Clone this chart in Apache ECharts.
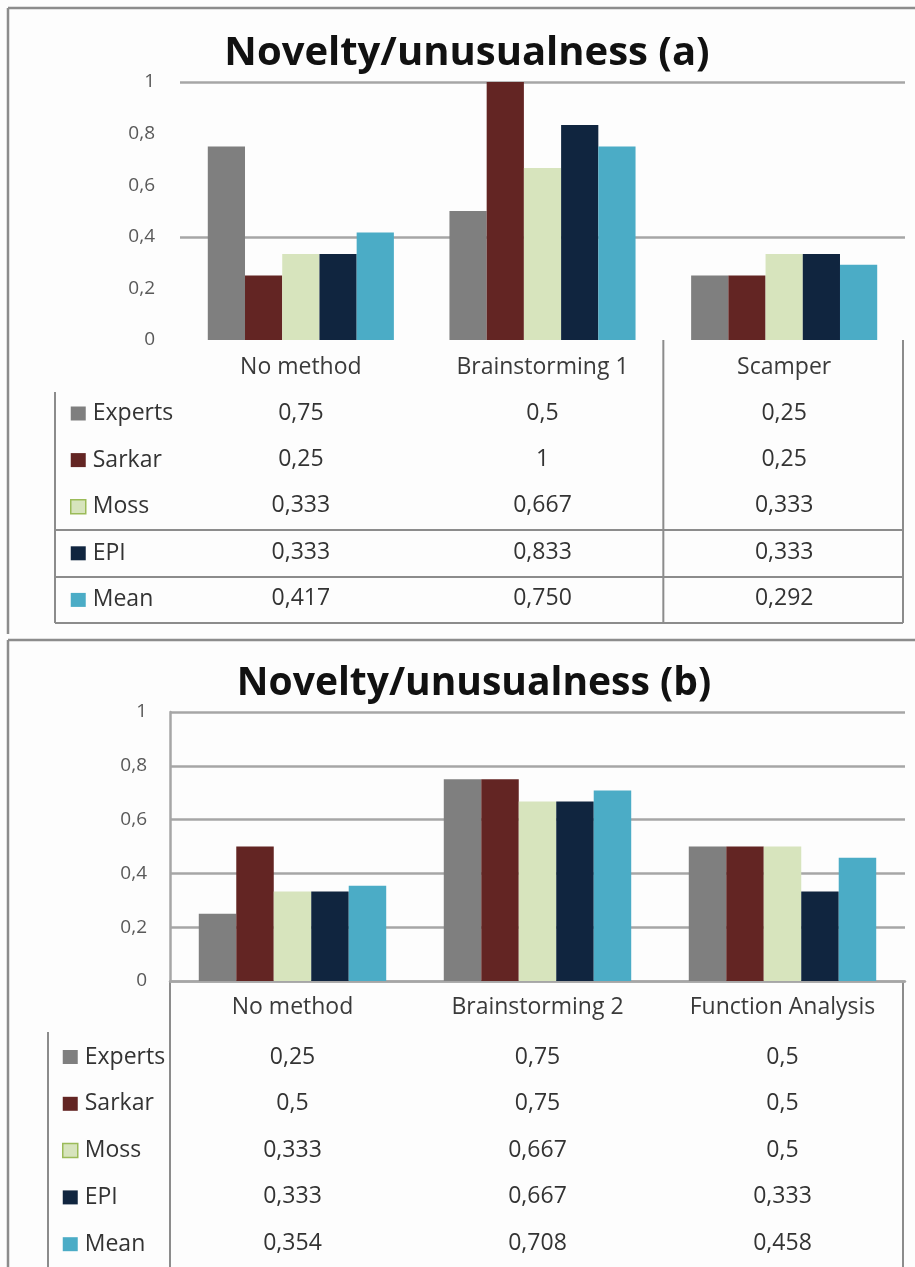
<!DOCTYPE html>
<html>
<head>
<meta charset="utf-8">
<script src="https://cdn.jsdelivr.net/npm/echarts@6/dist/echarts.min.js"></script>
<style>
html, body { margin: 0; padding: 0; background: #fff; }
#main { width: 915px; height: 1267px; }
</style>
</head>
<body>
<div id="main"></div>
<script>
var chart = echarts.init(document.getElementById('main'));

var seriesNames = ['Experts', 'Sarkar', 'Moss', 'EPI', 'Mean'];
var yTickLabels = ['0', '0,2', '0,4', '0,6', '0,8', '1'];

// panel (a)
var categoriesA = ['No method', 'Brainstorming 1', 'Scamper'];
var expertsA = [0.75, 0.5, 0.25];
var sarkarA  = [0.25, 1, 0.25];
var mossA    = [0.333, 0.667, 0.333];
var epiA     = [0.333, 0.833, 0.333];
var meanA    = [0.417, 0.750, 0.292];
var tableA = [
  ['0,75', '0,5', '0,25'],
  ['0,25', '1', '0,25'],
  ['0,333', '0,667', '0,333'],
  ['0,333', '0,833', '0,333'],
  ['0,417', '0,750', '0,292']
];

// panel (b)
var categoriesB = ['No method', 'Brainstorming 2', 'Function Analysis'];
var expertsB = [0.25, 0.75, 0.5];
var sarkarB  = [0.5, 0.75, 0.5];
var mossB    = [0.333, 0.667, 0.5];
var epiB     = [0.333, 0.667, 0.333];
var meanB    = [0.354, 0.708, 0.458];
var tableB = [
  ['0,25', '0,75', '0,5'],
  ['0,5', '0,75', '0,5'],
  ['0,333', '0,667', '0,5'],
  ['0,333', '0,667', '0,333'],
  ['0,354', '0,708', '0,458']
];

var colors = ['#7f7f7f', '#632523', '#d7e4bd', '#10253f', '#4bacc6'];
var FONT = '"Open Sans", Lato, sans-serif';
var gridColor = '#a6a6a6';

// plot boxes
var pa = { left: 180, right: 905, top: 82, bottom: 340 };
var pb = { left: 170, right: 905, top: 712, bottom: 981 };

function yLabel(v) {
  return yTickLabels[Math.round(v / 0.2)];
}

function tableAxes(gridIndex, cats, rows, firstOffset, step, margin) {
  var axes = [{
    type: 'category', gridIndex: gridIndex, data: cats,
    axisTick: { show: false },
    axisLine: { show: gridIndex === 1, lineStyle: { color: gridColor, width: 2.5 } },
    axisLabel: { interval: 0, margin: margin, color: '#3a3a3a', fontSize: 23, lineHeight: 24, fontFamily: FONT }
  }];
  for (var i = 0; i < rows.length; i++) {
    axes.push({
      type: 'category', gridIndex: gridIndex, data: rows[i], position: 'bottom',
      offset: firstOffset + i * step,
      axisTick: { show: false }, axisLine: { show: false },
      axisLabel: { interval: 0, margin: margin, color: '#333', fontSize: 23, lineHeight: 24, fontFamily: FONT }
    });
  }
  return axes;
}

var xAxes = tableAxes(0, categoriesA, tableA, 46.3, 46.3, 15)
  .concat(tableAxes(1, categoriesB, tableB, 50, 46.5, 14));

var valuesA = [expertsA, sarkarA, mossA, epiA, meanA];
var valuesB = [expertsB, sarkarB, mossB, epiB, meanB];
var series = [];
for (var i = 0; i < seriesNames.length; i++) {
  series.push({
    name: seriesNames[i], type: 'bar', xAxisIndex: 0, yAxisIndex: 0,
    data: valuesA[i], barGap: '0%', barCategoryGap: '23%',
    itemStyle: { color: colors[i] }, silent: true
  });
}
for (var i = 0; i < seriesNames.length; i++) {
  series.push({
    name: seriesNames[i], type: 'bar', xAxisIndex: 6, yAxisIndex: 1,
    data: valuesB[i], barGap: '0%', barCategoryGap: '23.5%',
    itemStyle: { color: colors[i] }, silent: true
  });
}

var legendData = seriesNames.map(function (n) {
  if (n === 'Moss') return { name: n, itemStyle: { borderColor: '#9bbb59', borderWidth: 1.5 } };
  return { name: n };
});

function legendAt(left, top, gap) {
  return {
    orient: 'vertical', left: left, top: top, height: 260, itemWidth: 15, itemHeight: 14, itemGap: gap,
    icon: 'rect', selectedMode: false, data: legendData,
    textStyle: { fontSize: 23, lineHeight: 18, color: '#333', fontFamily: FONT, padding: [0, 0, 0, 2] }
  };
}

function line(x1, y1, x2, y2, w) {
  return { type: 'line', shape: { x1: x1, y1: y1, x2: x2, y2: y2 }, style: { stroke: '#8c8c8c', lineWidth: w || 2 } };
}

var colA = (pa.right - pa.left) / 3;

var option = {
  backgroundColor: '#fdfdfd',
  animation: false,
  color: colors,
  title: [
    { text: 'Novelty/unusualness (a)', left: 462, top: 29, textAlign: 'center',
      textStyle: { fontSize: 40, lineHeight: 40, fontWeight: 'bold', color: '#111', fontFamily: FONT } },
    { text: 'Novelty/unusualness (b)', left: 469, top: 659, textAlign: 'center',
      textStyle: { fontSize: 39, lineHeight: 40, fontWeight: 'bold', color: '#111', fontFamily: FONT } }
  ],
  legend: [legendAt(65, 397, 23.6), legendAt(57, 1040.5, 23.8)],
  grid: [
    { left: pa.left, top: pa.top, width: pa.right - pa.left, height: pa.bottom - pa.top, containLabel: false },
    { left: pb.left, top: pb.top, width: pb.right - pb.left, height: pb.bottom - pb.top, containLabel: false }
  ],
  xAxis: xAxes,
  yAxis: [
    { type: 'value', gridIndex: 0, min: 0, max: 1, interval: 0.2,
      axisLine: { show: false }, axisTick: { show: false },
      axisLabel: { margin: 25, color: '#595959', fontSize: 19, fontFamily: FONT, formatter: yLabel },
      splitLine: { show: true, lineStyle: { width: 2.5,
        color: ['rgba(0,0,0,0)', 'rgba(0,0,0,0)', gridColor, 'rgba(0,0,0,0)', 'rgba(0,0,0,0)', gridColor] } } },
    { type: 'value', gridIndex: 1, min: 0, max: 1, interval: 0.2,
      axisLine: { show: true, lineStyle: { color: gridColor, width: 2.5 } }, axisTick: { show: false },
      axisLabel: { margin: 23, color: '#595959', fontSize: 19, fontFamily: FONT, formatter: yLabel },
      splitLine: { show: true, lineStyle: { width: 2.5, color: gridColor } } }
  ],
  graphic: [
    // frames
    line(8, 8, 915, 8, 2.5), line(8, 8, 8, 634, 2.5),
    line(8, 640, 915, 640, 2.5), line(8, 640, 8, 1267, 2.5),
    // table (a)
    line(55, 392, 55, 623), line(pa.left + 2 * colA, pa.bottom, pa.left + 2 * colA, 623),
    line(pa.right - 2, pa.bottom, pa.right - 2, 623),
    line(55, 530, pa.right - 2, 530), line(55, 577, pa.right - 2, 577), line(55, 623, pa.right - 2, 623),
    // table (b)
    line(48, 1032, 48, 1267), line(pb.left, pb.bottom, pb.left, 1267), line(pb.right - 2, pb.bottom, pb.right - 2, 1267)
  ],
  series: series
};

chart.setOption(option);
window.addEventListener('resize', function () {
  chart.resize();
});
</script>
</body>
</html>
